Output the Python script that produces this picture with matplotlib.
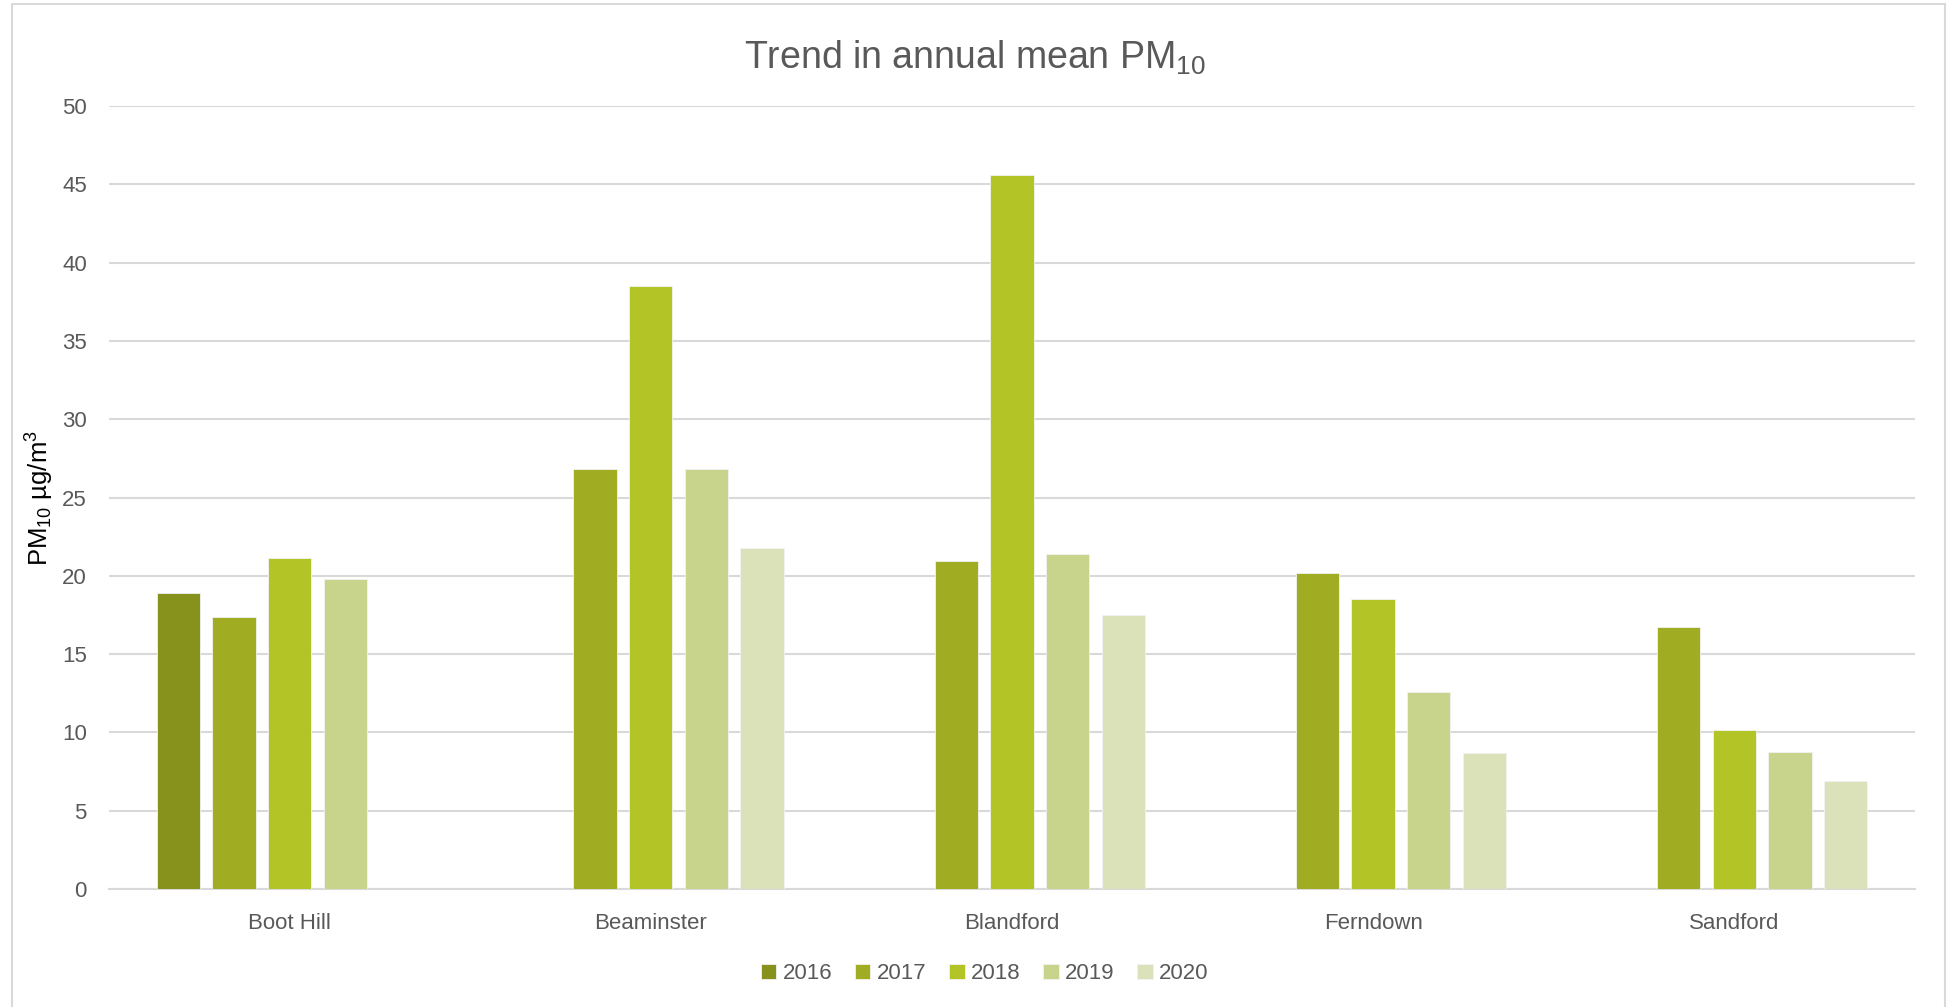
import numpy as np
import matplotlib.pyplot as plt
from matplotlib.patches import Rectangle

plt.rcParams['font.family'] = ['Liberation Sans', 'DejaVu Sans']
plt.rcParams['mathtext.fontset'] = 'custom'
plt.rcParams['mathtext.rm'] = 'Liberation Sans'
plt.rcParams['mathtext.default'] = 'regular'

# Annual mean PM10 per site (nan = no data that year)
sites = ['Boot Hill', 'Beaminster', 'Blandford', 'Ferndown', 'Sandford']
years = ['2016', '2017', '2018', '2019', '2020']
pm10_2016 = [18.9, np.nan, np.nan, np.nan, np.nan]
pm10_2017 = [17.4, 26.8, 20.95, 20.2, 16.7]
pm10_2018 = [21.15, 38.5, 45.6, 18.5, 10.15]
pm10_2019 = [19.8, 26.8, 21.4, 12.55, 8.75]
pm10_2020 = [np.nan, 21.8, 17.5, 8.7, 6.9]
colours = ['#86921b', '#a0ac22', '#b3c426', '#c8d48b', '#dbe2b9']

series = [pm10_2016, pm10_2017, pm10_2018, pm10_2019, pm10_2020]
grey = '#595959'

fig = plt.figure(figsize=(19.5, 10.07), dpi=100)
ax = fig.add_axes([0.0559, 0.1172, 0.9261, 0.7775])

# chart frame
fig.patches.append(Rectangle((12 / 1950, -0.01), 1933 / 1950, 1.0 - 4 / 1007 + 0.01,
                             transform=fig.transFigure, fill=False,
                             edgecolor='#d9d9d9', linewidth=1.5))

x = np.arange(len(sites))
step = 0.154
width = 0.12
for i, (vals, col, yr) in enumerate(zip(series, colours, years)):
    ax.bar(x + (i - 2) * step, vals, width, color=col, edgecolor='#f2f2f2',
           linewidth=0.6, label=yr, zorder=3)

ax.set_xlim(-0.5, len(sites) - 0.5)
ax.set_ylim(0, 50)
ax.set_yticks(np.arange(0, 51, 5))
ax.set_xticks(x)
ax.set_xticklabels(sites)
ax.tick_params(axis='both', length=0, labelsize=16, colors=grey)
ax.tick_params(axis='x', pad=17)
ax.tick_params(axis='y', pad=16)
ax.grid(axis='y', color='#d9d9d9', linewidth=1.5, zorder=0)
for s in ['top', 'right', 'left']:
    ax.spines[s].set_visible(False)
ax.spines['bottom'].set_color('#d9d9d9')
ax.spines['bottom'].set_linewidth(1.5)

ax.set_ylabel(r'PM$_{10}$ µg/m$^3$', fontsize=18.5, color='black', labelpad=4)

# title and legend are centred on the whole figure, not the axes
fig.text(0.5, 0.943, r'Trend in annual mean PM$_{10}$', fontsize=27, color=grey,
         ha='center', va='center')

fig.legend(*ax.get_legend_handles_labels(), loc='center', bbox_to_anchor=(0.505, 0.033),
           ncol=5, frameon=False, fontsize=16, labelcolor=grey, handlelength=0.7,
           handleheight=0.7, handletextpad=0.3, columnspacing=1.0)

fig.savefig('out.png', dpi=100)
